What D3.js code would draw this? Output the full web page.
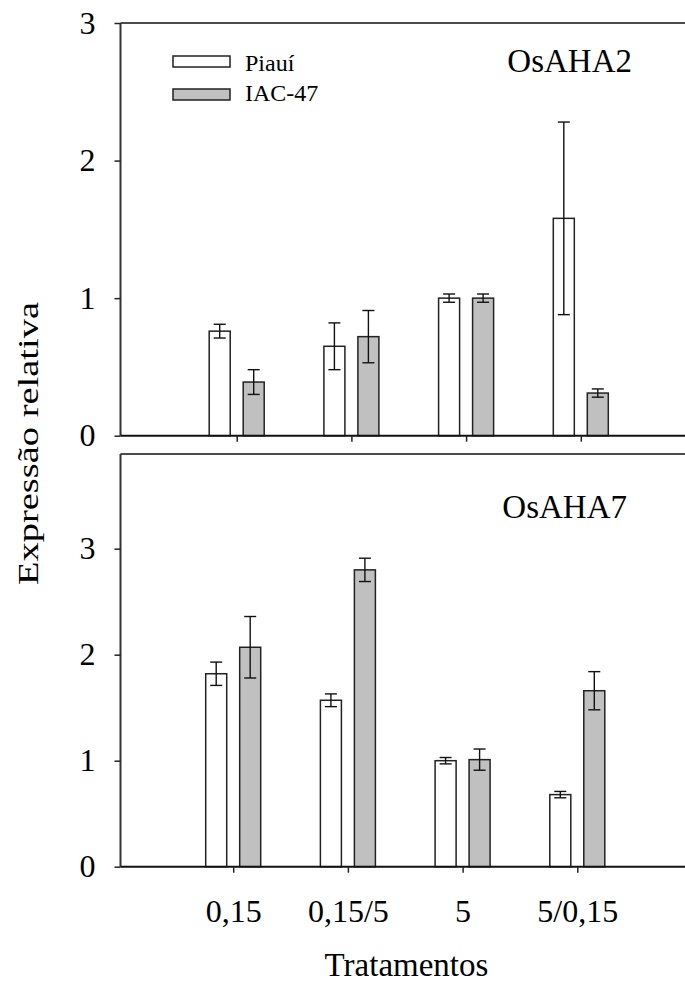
<!DOCTYPE html>
<html>
<head>
<meta charset="utf-8">
<script src="https://cdn.jsdelivr.net/npm/d3@7"></script>
<style>
  html, body { margin: 0; padding: 0; background: #fff; }
  svg { display: block; }
  text { font-family: "Liberation Serif", "Times New Roman", serif; fill: #000; }
</style>
</head>
<body>
<svg id="chart" width="685" height="983"></svg>
<script>
// Treatments (mM) on the x axis and the two cultivars
const categories = ["0,15", "0,15/5", "5", "5/0,15"];
const series = ["Piauí", "IAC-47"];

// OsAHA2 relative expression (mean and standard error)
const aha2Piaui    = [0.76, 0.65, 1.00, 1.58];
const aha2PiauiErr = [0.05, 0.17, 0.03, 0.70];
const aha2Iac      = [0.39, 0.72, 1.00, 0.31];
const aha2IacErr   = [0.09, 0.19, 0.03, 0.03];

// OsAHA7 relative expression (mean and standard error)
const aha7Piaui    = [1.82, 1.57, 1.00, 0.68];
const aha7PiauiErr = [0.11, 0.06, 0.03, 0.03];
const aha7Iac      = [2.07, 2.80, 1.01, 1.66];
const aha7IacErr   = [0.29, 0.11, 0.10, 0.18];

const yTicks = [0, 1, 2, 3];
const xLabel = "Tratamentos";
const yLabel = "Expressão relativa";

const fills = { "Piauí": "#ffffff", "IAC-47": "#c0c0c0" };
const serif = "Liberation Serif, Times New Roman, serif";

const svg = d3.select("#chart");
const axisColor = "#333";

const panels = [
  { gene: "OsAHA2", top: 23, bottom: 435.7, yMax: 3, x0: 122, showLabels: false, legend: true,
    geneX: 632, geneY: 71.5,
    values: { "Piauí": aha2Piaui, "IAC-47": aha2Iac },
    errors: { "Piauí": aha2PiauiErr, "IAC-47": aha2IacErr } },
  { gene: "OsAHA7", top: 454, bottom: 866.7, yMax: 3.893, x0: 118.5, showLabels: true, legend: false,
    geneX: 627, geneY: 517.5,
    values: { "Piauí": aha7Piaui, "IAC-47": aha7Iac },
    errors: { "Piauí": aha7PiauiErr, "IAC-47": aha7IacErr } }
];

const leftX = 120.5;

panels.forEach(p => {
  const y = d3.scaleLinear().domain([0, p.yMax]).range([p.bottom, p.top]);
  const x = d3.scaleLinear().domain([0, 5]).range([p.x0, p.x0 + 5 * 114.7]);
  const sub = d3.scaleBand().domain(series).range([-27.5, 27.5]).paddingInner(0.382).paddingOuter(0);

  const g = svg.append("g");

  // bars
  series.forEach(s => {
    const vals = p.values[s], errs = p.errors[s];
    const grp = g.append("g");
    grp.selectAll("rect").data(categories).join("rect")
      .attr("x", (c, i) => x(i + 1) + sub(s))
      .attr("y", (c, i) => y(vals[i]))
      .attr("width", sub.bandwidth())
      .attr("height", (c, i) => y(0) - y(vals[i]))
      .attr("fill", fills[s])
      .attr("stroke", "#222")
      .attr("stroke-width", 1.5);

    // error bars
    const eb = grp.selectAll("g.err").data(categories).join("g").attr("class", "err")
      .attr("stroke", "#111").attr("stroke-width", 1.4).attr("fill", "none");
    const cx = i => x(i + 1) + sub(s) + sub.bandwidth() / 2;
    eb.append("line")
      .attr("x1", (c, i) => cx(i)).attr("x2", (c, i) => cx(i))
      .attr("y1", (c, i) => y(vals[i] + errs[i])).attr("y2", (c, i) => y(vals[i] - errs[i]));
    [1, -1].forEach(sign => {
      eb.append("line")
        .attr("x1", (c, i) => cx(i) - 6).attr("x2", (c, i) => cx(i) + 6)
        .attr("y1", (c, i) => y(vals[i] + sign * errs[i]))
        .attr("y2", (c, i) => y(vals[i] + sign * errs[i]));
    });
  });

  // frame: top, left and bottom lines
  g.append("line").attr("x1", leftX).attr("x2", 685).attr("y1", p.top).attr("y2", p.top)
    .attr("stroke", "#111").attr("stroke-width", 1.5);
  g.append("line").attr("x1", leftX).attr("x2", leftX).attr("y1", p.top).attr("y2", p.bottom)
    .attr("stroke", axisColor).attr("stroke-width", 2);
  g.append("line").attr("x1", leftX).attr("x2", 685).attr("y1", p.bottom).attr("y2", p.bottom)
    .attr("stroke", "#111").attr("stroke-width", 2);

  // y axis
  const ya = g.append("g").attr("transform", `translate(${leftX},0)`)
    .call(d3.axisLeft(y).tickValues(yTicks).tickFormat(d3.format("d")).tickSize(6).tickPadding(19));
  ya.select(".domain").remove();
  ya.selectAll(".tick line").attr("stroke", "#222").attr("stroke-width", 1.5);
  ya.selectAll(".tick text").attr("font-size", 32).attr("font-family", serif).attr("fill", "#000");

  // x axis
  const xa = g.append("g").attr("transform", `translate(0,${p.bottom})`)
    .call(d3.axisBottom(x).tickValues([1, 2, 3, 4])
      .tickFormat((d) => p.showLabels ? categories[d - 1] : "")
      .tickSize(6).tickPadding(27));
  xa.select(".domain").remove();
  xa.selectAll(".tick line").attr("stroke", "#222").attr("stroke-width", 1.5);
  xa.selectAll(".tick text").attr("font-size", 32).attr("font-family", serif).attr("fill", "#000");

  // gene name
  g.append("text").attr("x", p.geneX).attr("y", p.geneY).attr("text-anchor", "end")
    .attr("font-family", serif).attr("font-size", 33).text(p.gene);

  // legend
  if (p.legend) {
    const lg = g.append("g");
    series.forEach((s, i) => {
      lg.append("rect").attr("x", 173).attr("y", 56 + i * 33).attr("width", 57).attr("height", 11)
        .attr("fill", fills[s]).attr("stroke", "#222").attr("stroke-width", 1.5);
      lg.append("text").attr("x", 245).attr("y", 71 + i * 30)
        .attr("font-family", serif).attr("font-size", 24).text(s);
    });
  }
});

// axis titles
svg.append("text").attr("x", 406.5).attr("y", 976).attr("text-anchor", "middle")
  .attr("font-family", serif).attr("font-size", 33).text(xLabel);

svg.append("text")
  .attr("transform", "translate(38,443.5) rotate(-90)")
  .attr("text-anchor", "middle")
  .attr("font-family", serif)
  .attr("font-size", 29)
  .attr("textLength", 283)
  .attr("lengthAdjust", "spacingAndGlyphs")
  .text(yLabel);
</script>
</body>
</html>
